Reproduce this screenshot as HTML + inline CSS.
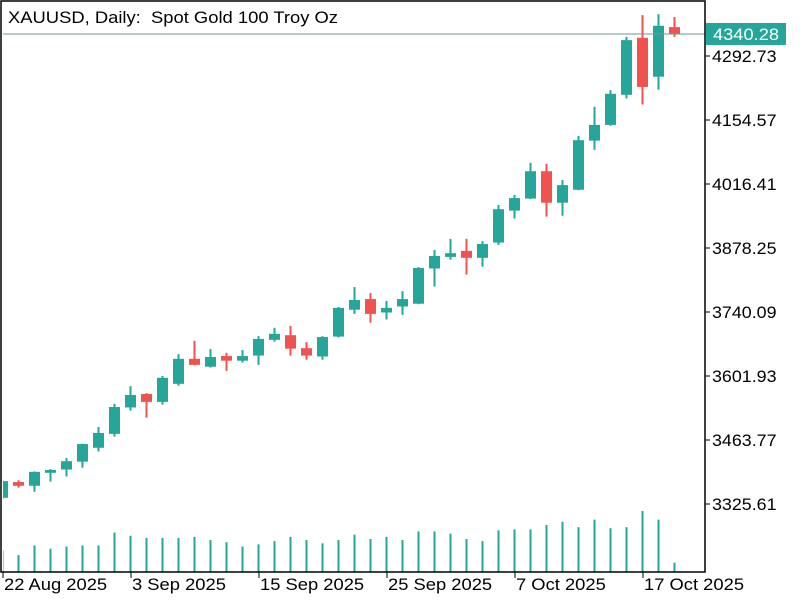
<!DOCTYPE html>
<html><head><meta charset="utf-8"><style>
html,body{margin:0;padding:0;background:#fff;}
svg{display:block;font-family:"Liberation Sans",sans-serif;}
</style></head><body>
<svg id="chart" width="800" height="600" viewBox="0 0 800 600">
<rect x="0" y="0" width="800" height="600" fill="#fff"/>
<g id="vol"></g>
<g id="candles"></g>
<line id="curline" x1="0" x2="705" stroke="#6f9a94" stroke-width="1"/>
<rect x="0" y="0" width="800" height="600" fill="none"/>
<rect x="0" y="1" width="3" height="571" fill="#fff"/>
<rect x="1" y="1" width="704" height="571" fill="none" stroke="#000" stroke-width="1.5"/>
<text x="8" y="23" font-size="17" fill="#000" xml:space="preserve" textLength="330" lengthAdjust="spacingAndGlyphs">XAUUSD, Daily:  Spot Gold 100 Troy Oz</text>
<g id="yaxis"></g>
<g id="xaxis"></g>
<rect id="curbox" x="706" width="80" height="22" fill="#26a69a"/>
<text id="curtext" x="713" font-size="17" fill="#fff" textLength="66" lengthAdjust="spacingAndGlyphs">4340.28</text>
</svg>
<script>
const opens=[3339,3373,3365,3393,3400,3417,3447,3477,3534,3563,3546,3585,3639,3622,3645,3635,3646,3680,3690,3662,3644,3687,3745,3768,3739,3752,3758,3834,3859,3872,3857,3890,3959,3985,4044,3976,4004,4110,4144,4209,4332,4248,4355];
const highs=[3376,3377,3396,3401,3425,3456,3492,3542,3580,3565,3602,3649,3678,3660,3652,3658,3688,3706,3710,3675,3688,3751,3794,3781,3764,3785,3837,3874,3898,3898,3893,3971,3993,4062,4060,4025,4120,4183,4219,4334,4381,4383,4377];
const lows=[3337,3361,3352,3374,3385,3404,3439,3471,3527,3512,3540,3581,3625,3620,3613,3631,3626,3676,3646,3637,3637,3685,3736,3717,3724,3734,3757,3795,3853,3821,3838,3885,3942,3984,3946,3948,4003,4090,4142,4201,4188,4220,4334];
const closes=[3375,3365,3395,3399,3418,3455,3479,3535,3561,3546,3598,3639,3626,3643,3635,3645,3682,3693,3661,3646,3686,3749,3766,3736,3749,3768,3835,3861,3867,3857,3887,3962,3986,4044,3976,4014,4111,4144,4211,4327,4226,4358,4340.28];
const volumes=[60,47,74,65,71,74,74,110,101,95,95,95,98,89,83,71,77,86,98,89,80,89,104,92,98,89,113,113,107,92,86,116,119,119,131,140,125,146,122,125,170,146,26];
const priceTicks=[4292.73,4154.57,4016.41,3878.25,3740.09,3601.93,3463.77,3325.61];
const dateLabels=["22 Aug 2025","3 Sep 2025","15 Sep 2025","25 Sep 2025","7 Oct 2025","17 Oct 2025"];
const dateIndex=[0,8,16,24,32,40];
const lastPrice=4340.28;

const NS="http://www.w3.org/2000/svg";
function yP(p){return 504-(p-3325.61)/(967.12/448);}
function xI(i){return 2.5+16*i;}
const vMax=170;
function yV(v){return 572-v/vMax*61;}
function mk(t,a,parent){const e=document.createElementNS(NS,t);for(const k in a)e.setAttribute(k,a[k]);parent.appendChild(e);return e;}
function widen(el,f){const w=el.getComputedTextLength();el.setAttribute('textLength',w*f);el.setAttribute('lengthAdjust','spacingAndGlyphs');}

const cg=document.getElementById('candles');
const vg=document.getElementById('vol');
for(let i=0;i<opens.length;i++){
  const up=closes[i]>=opens[i];
  const col=up?"#26a69a":"#ef5350";
  const x=xI(i);
  const w=mk('rect',{x:x-1,y:yP(highs[i]),width:2,height:yP(lows[i])-yP(highs[i]),fill:col},cg);
  
  
  const top=yP(Math.max(opens[i],closes[i])),bot=yP(Math.min(opens[i],closes[i]));
  const b=mk('rect',{x:x-5.5,y:top,width:11,height:Math.max(1,bot-top),fill:col},cg);
  
  
  const vb=mk('rect',{x:x-1,y:yV(volumes[i]),width:2,height:572-yV(volumes[i]),fill:"#26a69a"},vg);
  
  
}
const ya=document.getElementById('yaxis');
priceTicks.forEach(p=>{
  const y=yP(p);
  const t=mk('line',{x1:705,x2:710,y1:y,y2:y,stroke:"#000","stroke-width":1},ya);
  
  
  const tx=mk('text',{x:712,y:y+6,"font-size":17,fill:"#000"},ya);
  tx.textContent=p.toFixed(2);
  
  
  widen(tx,1.05);
});
const xa=document.getElementById('xaxis');
dateLabels.forEach((d,k)=>{
  const x=xI(dateIndex[k])+0.5;
  const t=mk('line',{x1:x,x2:x,y1:572,y2:578,stroke:"#000","stroke-width":1},xa);
  
  
  const tx=mk('text',{x:x+1,y:590,"font-size":17,fill:"#000"},xa);
  tx.textContent=d;
  
  
  widen(tx,1.08);
});
const ly=yP(lastPrice);
const cl=document.getElementById('curline');cl.setAttribute('y1',ly);cl.setAttribute('y2',ly);
document.getElementById('curbox').setAttribute('y',ly-11);
document.getElementById('curtext').setAttribute('y',ly+6);
</script>
</body></html>
